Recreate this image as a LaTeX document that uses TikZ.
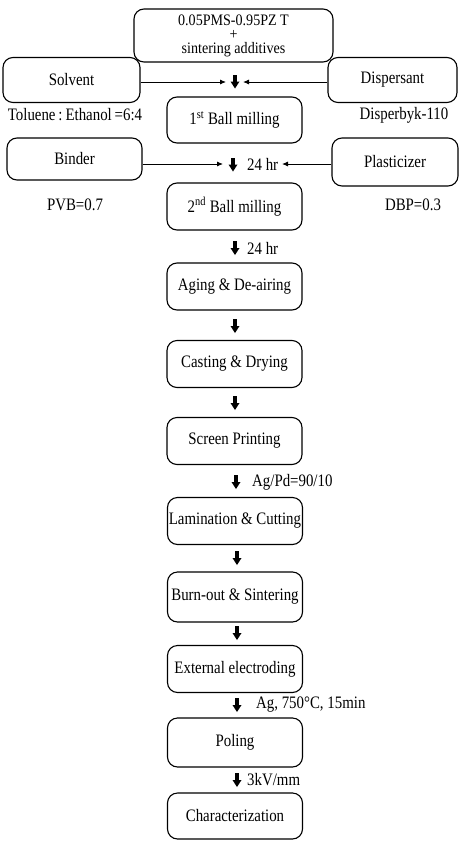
\documentclass[tikz,border=0pt]{standalone}
\usepackage{fontspec}
\setmainfont{Liberation Serif}[FakeStretch=0.85]
\newfontfamily\headfont{Liberation Serif}[FakeStretch=0.88]
\usetikzlibrary{arrows.meta}
\begin{document}
\begin{tikzpicture}[x=1pt,y=-1pt,
  every node/.style={font=\fontsize{17.5}{15}\selectfont, inner sep=0pt},
  stepbox/.style={draw, line width=1.1pt, rounded corners=10pt,
    minimum width=135pt, minimum height=47pt, align=center},
  sidebox/.style={draw, line width=1.1pt, rounded corners=10pt,
    minimum height=45pt, align=center},
  feed/.style={line width=0.9pt, -{Latex[length=6pt,width=5pt]}},
  note/.style={anchor=west},
  thickdown/.pic={
    \fill (-2,-7) rectangle (2,0.5);
    \fill (-4.5,0) -- (4.5,0) -- (0,7) -- cycle;
  }]
\useasboundingbox (0,0) rectangle (459,841);

% main process column
\node[stepbox, minimum width=199pt, minimum height=53pt,
      font=\headfont\fontsize{16}{14}\selectfont] (raw) at (233.5,35.5)
  {0.05PMS-0.95PZ T\\+\\sintering additives};
\node[stepbox, minimum height=46pt] (mill1) at (234.5,120) {1\textsuperscript{st} Ball milling};
\node[stepbox] (mill2) at (234.5,206.5) {2\textsuperscript{nd} Ball milling};
\node[stepbox] (aging) at (234.5,286.5) {Aging \& De-airing};
\node[stepbox] (cast) at (234.5,364) {Casting \& Drying};
\node[stepbox] (print) at (234.5,441) {Screen Printing};
\node[stepbox] (lam) at (235,521) {Lamination \& Cutting};
\node[stepbox, minimum height=50pt] (burn) at (235,597) {Burn-out \& Sintering};
\node[stepbox] (elec) at (235,669) {External electroding};
\node[stepbox, minimum height=49pt] (pole) at (235,742.5) {Poling};
\node[stepbox, minimum height=46pt] (char) at (235,816) {Characterization};

% additives fed in from the sides
\node[sidebox, minimum width=137pt] (solv) at (71.5,80) {Solvent};
\node[sidebox, minimum width=129pt] (disp) at (392.5,80) {Dispersant};
\node[sidebox, minimum width=135pt, minimum height=42pt] (bind) at (74.5,159) {Binder};
\node[sidebox, minimum width=126pt, minimum height=48pt] (plas) at (395,162) {Plasticizer};

\node (solvnote) at (75,115) {Toluene\,:\,Ethanol\,=6:4};
\node (dispnote) at (404,115) {Disperbyk-110};
\node (bindnote) at (75,205) {PVB=0.7};
\node (plasnote) at (413,205) {DBP=0.3};

% junction points of the side feeds
\coordinate (j1L) at (226,82);
\coordinate (j1R) at (243,82);
\coordinate (j2L) at (223,164);
\coordinate (j2R) at (282,164);

\draw[feed] (solv.east |- j1L) -- (j1L);
\draw[feed] (disp.west |- j1R) -- (j1R);
\draw[feed] (bind.east |- j2L) -- (j2L);
\draw[feed] (plas.west |- j2R) -- (j2R);

% step arrows and their conditions
\pic at (235,81.5) {thickdown};
\pic at (233,164.5) {thickdown};
\node[note] (t1) at (247,164) {24 hr};
\pic at (235,248) {thickdown};
\node[note] (t2) at (247,248) {24 hr};
\pic at (235,326) {thickdown};
\pic at (235,403) {thickdown};
\pic at (236,482) {thickdown};
\node[note] (t3) at (252,482) {Ag/Pd=90/10};
\pic at (237,558) {thickdown};
\pic at (237,633) {thickdown};
\pic at (237,705) {thickdown};
\node[note] (t4) at (256,705) {Ag, 750°C, 15min};
\pic at (237,780) {thickdown};
\node[note] (t5) at (247,780) {3kV/mm};
\end{tikzpicture}
\end{document}
